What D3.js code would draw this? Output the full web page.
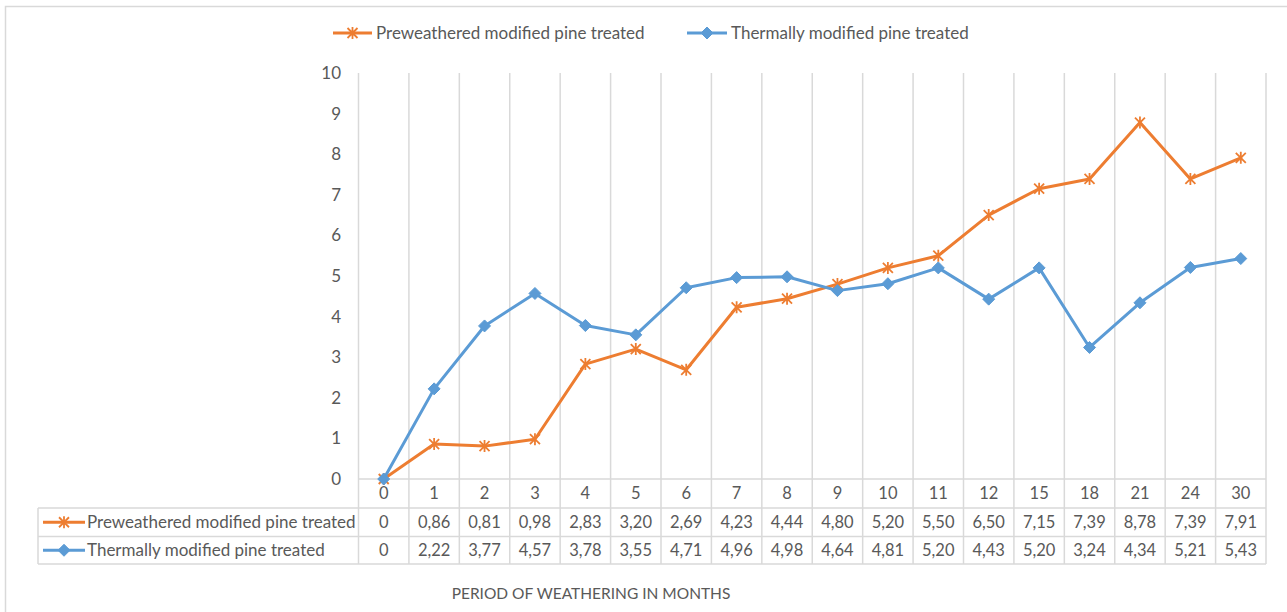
<!DOCTYPE html>
<html>
<head>
<meta charset="utf-8">
<script src="https://cdn.jsdelivr.net/npm/d3@7"></script>
<style>
  html, body { margin: 0; padding: 0; background: #fff; }
  svg { display: block; }
  text { font-family: "Lato", "Open Sans", sans-serif; fill: #595959; }
</style>
</head>
<body>
<svg id="chart" width="1287" height="612"></svg>
<script>
const categories = ["0","1","2","3","4","5","6","7","8","9","10","11","12","15","18","21","24","30"];
const preweathered = [0,0.86,0.81,0.98,2.83,3.20,2.69,4.23,4.44,4.80,5.20,5.50,6.50,7.15,7.39,8.78,7.39,7.91];
const thermally = [0,2.22,3.77,4.57,3.78,3.55,4.71,4.96,4.98,4.64,4.81,5.20,4.43,5.20,3.24,4.34,5.21,5.43];
const seriesNames = ["Preweathered modified pine treated","Thermally modified pine treated"];
const yTicks = [0,1,2,3,4,5,6,7,8,9,10];
const xTitle = "PERIOD OF WEATHERING IN MONTHS";

const ORANGE = "#ED7D31", BLUE = "#5B9BD5", GRID = "#d9d9d9";
const FONT = "Lato, 'Open Sans', sans-serif";
const svg = d3.select("#chart");

// outer chart border (top and left visible)
svg.append("path").attr("d","M5.5,612 V6.5 H1287").attr("fill","none").attr("stroke",GRID).attr("stroke-width",1.5);

const x = d3.scaleBand().domain(categories).range([358.5, 1266]).padding(0);
const y = d3.scaleLinear().domain([0,10]).range([479, 73]);

const rowTop = [479, 508, 536.5, 564];
const tableLeft = 38;

// vertical gridlines (category boundaries) through plot and table
const bounds = categories.map(c => x(c)).concat([x.range()[1]]);
svg.append("g").selectAll("line").data(bounds).join("line")
  .attr("x1", d => d).attr("x2", d => d)
  .attr("y1", y(10)).attr("y2", rowTop[3])
  .attr("stroke", GRID).attr("stroke-width", 1.5);

// horizontal table lines
svg.append("line").attr("x1", x.range()[0]).attr("x2", x.range()[1]).attr("y1", rowTop[0]).attr("y2", rowTop[0]).attr("stroke", GRID).attr("stroke-width",1.5);
[1,2,3].forEach(i => {
  svg.append("line").attr("x1", tableLeft).attr("x2", x.range()[1]).attr("y1", rowTop[i]).attr("y2", rowTop[i]).attr("stroke", GRID).attr("stroke-width",1.5);
});
svg.append("line").attr("x1", tableLeft).attr("x2", tableLeft).attr("y1", rowTop[1]).attr("y2", rowTop[3]).attr("stroke", GRID).attr("stroke-width",1.5);

// y axis labels
const yAxis = d3.axisLeft(y).tickValues(yTicks).tickSize(0).tickPadding(0);
const yg = svg.append("g").attr("transform", "translate(341,0)").call(yAxis);
yg.select(".domain").remove();
yg.selectAll("text").attr("font-size", 17).attr("fill", "#595959").style("font-family", FONT);

// category labels row
const xAxis = d3.axisBottom(x).tickSize(0).tickPadding(0);
const xg = svg.append("g").attr("transform", `translate(0,${rowTop[0]})`).call(xAxis);
xg.select(".domain").remove();
xg.selectAll("text").attr("dy", null).attr("y", 20).attr("font-size", 16.5).attr("fill", "#595959").style("font-family", FONT);

const fmt = v => v === 0 ? "0" : d3.format(".2f")(v).replace(".", ",");

const series = [
  {name: seriesNames[0], values: preweathered, color: ORANGE, marker: "star"},
  {name: seriesNames[1], values: thermally, color: BLUE, marker: "diamond"}
];

function drawMarker(g, type, color) {
  if (type === "diamond") {
    g.append("path").attr("d", "M0,-6 L6,0 L0,6 L-6,0 Z").attr("fill", color).attr("stroke", color).attr("stroke-width", 1);
  } else {
    g.append("path").attr("d", "M-5,-5 L5,5 M-5,5 L5,-5 M0,-6 V6").attr("stroke", color).attr("stroke-width", 1.8).attr("fill","none");
  }
}

// table rows
series.forEach((s, i) => {
  const cy = (rowTop[i+1] + rowTop[i+2]) / 2;
  const lg = svg.append("g");
  lg.append("line").attr("x1", 43).attr("x2", 85).attr("y1", cy).attr("y2", cy).attr("stroke", s.color).attr("stroke-width", 3);
  drawMarker(lg.append("g").attr("transform", `translate(64,${cy})`), s.marker, s.color);
  lg.append("text").attr("x", 87).attr("y", cy).attr("dy", "0.35em").attr("font-size", 17).text(s.name);
  svg.append("g").selectAll("text").data(s.values).join("text")
    .attr("x", (d, j) => x(categories[j]) + x.bandwidth()/2)
    .attr("y", cy).attr("dy", "0.35em").attr("text-anchor", "middle").attr("font-size", 16.5)
    .text(d => fmt(d));
});

// lines and markers
const line = d3.line().x((d, j) => x(categories[j]) + x.bandwidth()/2).y(d => y(d));
series.forEach(s => {
  svg.append("path").datum(s.values).attr("d", line).attr("fill", "none")
    .attr("stroke", s.color).attr("stroke-width", 3).attr("stroke-linejoin", "round").attr("stroke-linecap","round");
  s.values.forEach((v, j) => {
    drawMarker(svg.append("g").attr("transform", `translate(${x(categories[j]) + x.bandwidth()/2},${y(v)})`), s.marker, s.color);
  });
});

// top legend
const legendItems = [{x1: 333, x2: 372, tx: 376}, {x1: 687, x2: 727, tx: 731}];
series.forEach((s, i) => {
  const L = legendItems[i], cy = 33;
  svg.append("line").attr("x1", L.x1).attr("x2", L.x2).attr("y1", cy).attr("y2", cy).attr("stroke", s.color).attr("stroke-width", 3);
  drawMarker(svg.append("g").attr("transform", `translate(${(L.x1 + L.x2)/2},${cy})`), s.marker, s.color);
  svg.append("text").attr("x", L.tx).attr("y", cy).attr("dy", "0.35em").attr("font-size", 17).text(s.name);
});

// x title
svg.append("text").attr("x", 591).attr("y", 594).attr("dy", "0.35em").attr("text-anchor", "middle").attr("font-size", 15.5).text(xTitle);
</script>
</body>
</html>
